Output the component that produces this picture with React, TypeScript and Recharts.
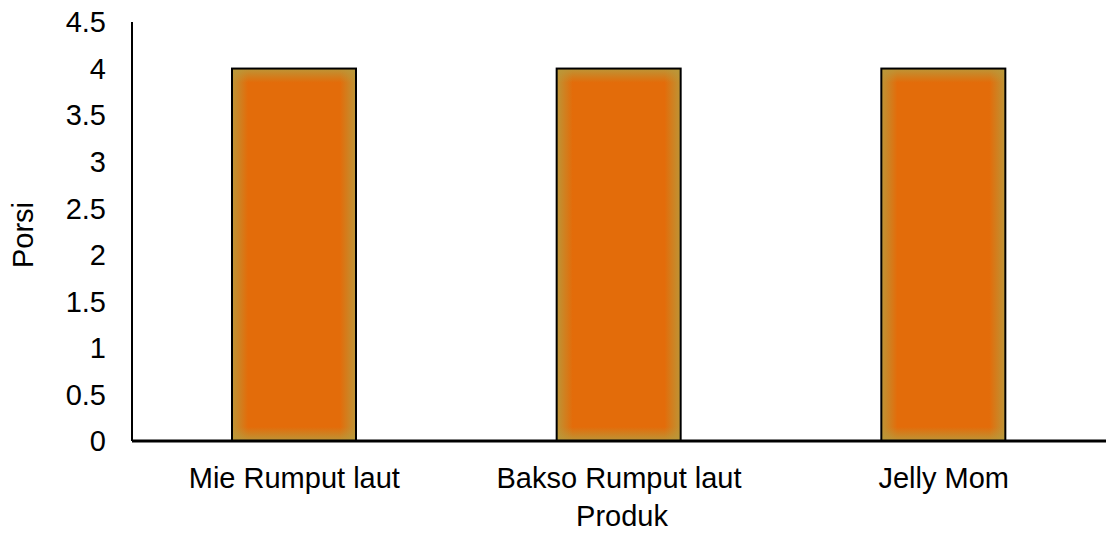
import { Bar, BarChart, XAxis, YAxis } from "recharts";

const produk = ["Mie Rumput laut", "Bakso Rumput laut", "Jelly Mom"];
const porsi = [4, 4, 4];
const yTicks = [0, 0.5, 1, 1.5, 2, 2.5, 3, 3.5, 4, 4.5];

const data = produk.map((name, i) => ({ name, porsi: porsi[i] }));

const FONT = "'Liberation Sans', Arial, sans-serif";
const FS = 29;
const CORE = "#E36C0A";
const EDGE = "#B89A3C";

// bar with a soft glow on the inner edges, like the Office "soft edge" fill
const GlowBar = (props: any) => {
  const { x, y, width, height, index } = props;
  if (!width || !height) return null;
  const fx = Math.min(0.5, 16 / width);
  const fy = Math.min(0.5, 14 / height);
  const h = `gh-${index}`;
  const v = `gv-${index}`;
  return (
    <g>
      <defs>
        <linearGradient id={h} x1="0" y1="0" x2="1" y2="0">
          <stop offset="0" stopColor={EDGE} stopOpacity={0.9} />
          <stop offset={fx} stopColor={EDGE} stopOpacity={0} />
          <stop offset={1 - fx} stopColor={EDGE} stopOpacity={0} />
          <stop offset="1" stopColor={EDGE} stopOpacity={0.9} />
        </linearGradient>
        <linearGradient id={v} x1="0" y1="0" x2="0" y2="1">
          <stop offset="0" stopColor={EDGE} stopOpacity={0.9} />
          <stop offset={fy} stopColor={EDGE} stopOpacity={0} />
          <stop offset={1 - fy} stopColor={EDGE} stopOpacity={0} />
          <stop offset="1" stopColor={EDGE} stopOpacity={0.9} />
        </linearGradient>
      </defs>
      <rect x={x} y={y} width={width} height={height} fill={CORE} />
      <rect x={x} y={y} width={width} height={height} fill={`url(#${h})`} />
      <rect x={x} y={y} width={width} height={height} fill={`url(#${v})`} />
      <rect
        x={x}
        y={y}
        width={width}
        height={height}
        fill="none"
        stroke="#000"
        strokeWidth={2}
      />
    </g>
  );
};

const YTitle = () => (
  <text
    x={33}
    y={235}
    transform="rotate(-90 33 235)"
    textAnchor="middle"
    fill="#000"
    fontSize={FS}
    fontFamily={FONT}
  >
    Porsi
  </text>
);

const XTitle = () => (
  <text
    x={622}
    y={526}
    textAnchor="middle"
    fill="#000"
    fontSize={FS}
    fontFamily={FONT}
  >
    Produk
  </text>
);

export default function App() {
  return (
    <div style={{ width: 1107, height: 533, background: "#fff" }}>
      <style>{`body{margin:0}`}</style>
      <BarChart
        width={1107}
        height={533}
        data={data}
        margin={{ top: 22, right: 1, left: 0, bottom: 0 }}
      >
        <XAxis
          dataKey="name"
          height={92}
          axisLine={{ stroke: "#000", strokeWidth: 3 }}
          tickLine={false}
          tickSize={0}
          tickMargin={26}
          tick={{ fill: "#000", fontSize: FS, fontFamily: FONT }}
          label={<XTitle />}
        />
        <YAxis
          width={132}
          domain={[0, 4.5]}
          ticks={yTicks}
          interval={0}
          axisLine={{ stroke: "#000", strokeWidth: 2 }}
          tickLine={false}
          tickSize={0}
          tickMargin={26}
          tick={{ fill: "#000", fontSize: FS, fontFamily: FONT }}
          label={<YTitle />}
        />
        <Bar
          dataKey="porsi"
          barSize={124}
          shape={GlowBar}
          isAnimationActive={false}
        />
      </BarChart>
    </div>
  );
}
